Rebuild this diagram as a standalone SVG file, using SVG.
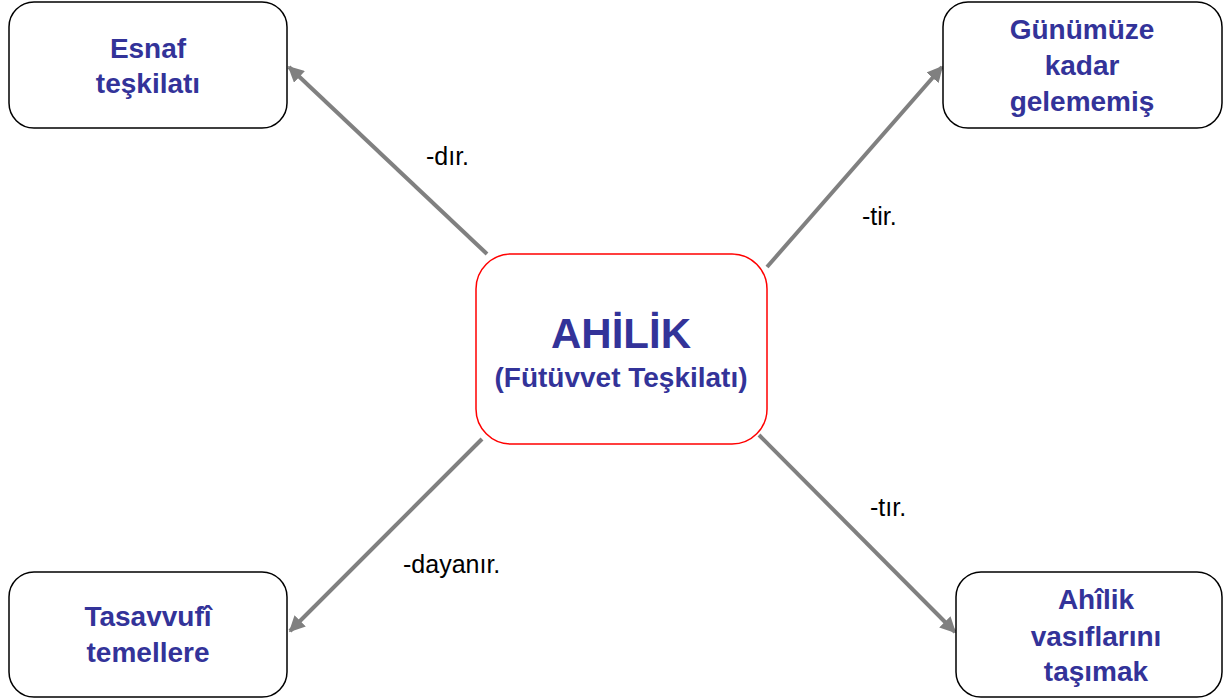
<svg xmlns="http://www.w3.org/2000/svg" width="1224" height="700" viewBox="0 0 1224 700">
<style>
.box{fill:#fff;stroke:#000;stroke-width:1.5}
.center{fill:#fff;stroke:#ff0000;stroke-width:1.5}
.t{font-family:"Liberation Sans",Arial,sans-serif;font-weight:bold;font-size:28px;fill:#333399;text-anchor:middle}
.big{font-size:42px}
.lbl{font-family:"Liberation Sans",Arial,sans-serif;font-size:25px;fill:#000}
.c{stroke:#808080;stroke-width:4;fill:none;marker-end:url(#ah)}
</style>
<defs>
<marker id="ah" viewBox="0 0 10 10" refX="9" refY="5" markerWidth="4" markerHeight="4" orient="auto" markerUnits="strokeWidth">
<path d="M0,0 L10,5 L0,10 z" fill="#808080"/>
</marker>
</defs>
<rect width="1224" height="700" fill="#fff"/>
<g id="connectors">
<line class="c" x1="487" y1="254" x2="289" y2="67"/>
<line class="c" x1="767" y1="267" x2="942" y2="67"/>
<line class="c" x1="482" y1="439" x2="290" y2="631"/>
<line class="c" x1="759" y1="435" x2="955" y2="632"/>
<text class="lbl" x="426" y="165">-dır.</text>
<text class="lbl" x="862" y="225">-tir.</text>
<text class="lbl" x="870" y="516">-tır.</text>
<text class="lbl" x="403" y="573">-dayanır.</text>
</g>
<g id="node-esnaf">
<rect class="box" x="9" y="2" width="278" height="126" rx="25"/>
<text class="t" x="148" y="58">Esnaf</text>
<text class="t" x="148" y="93">teşkilatı</text>
</g>
<g id="node-gunumuze">
<rect class="box" x="943" y="2" width="279" height="126" rx="25"/>
<text class="t" x="1082" y="39">Günümüze</text>
<text class="t" x="1082" y="75">kadar</text>
<text class="t" x="1082" y="111">gelememiş</text>
</g>
<g id="node-ahilik">
<rect class="center" x="476" y="254" width="291" height="190" rx="35"/>
<text class="t big" x="621" y="348">AHİLİK</text>
<text class="t" x="621" y="387">(Fütüvvet Teşkilatı)</text>
</g>
<g id="node-tasavvufi">
<rect class="box" x="9" y="572" width="278" height="125" rx="25"/>
<text class="t" x="148" y="626">Tasavvufî</text>
<text class="t" x="148" y="662">temellere</text>
</g>
<g id="node-vasif">
<rect class="box" x="956" y="572" width="266" height="125" rx="25"/>
<text class="t" x="1096" y="609">Ahîlik</text>
<text class="t" x="1096" y="646">vasıflarını</text>
<text class="t" x="1096" y="681">taşımak</text>
</g>
</svg>
